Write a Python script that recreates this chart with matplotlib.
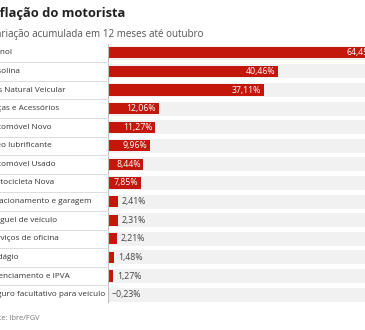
import matplotlib
matplotlib.use("Agg")
import matplotlib.pyplot as plt

categories = ["Etanol", "Gasolina", "Gás Natural Veicular", "Peças e Acessórios",
              "Automóvel Novo", "Óleo lubrificante", "Automóvel Usado",
              "Motocicleta Nova", "Estacionamento e garagem", "Aluguel de veículo",
              "Serviços de oficina", "Pedágio", "Licenciamento e IPVA",
              "Seguro facultativo para veículo"]
values = [64.45, 40.46, 37.11, 12.06, 11.27, 9.96, 8.44, 7.85, 2.41, 2.31,
          2.21, 1.48, 1.27, -0.23]
value_labels = ["64,45%", "40,46%", "37,11%", "12,06%", "11,27%", "9,96%", "8,44%",
                "7,85%", "2,41%", "2,31%", "2,21%", "1,48%", "1,27%", "−0,23%"]
title = "A inflação do motorista"
subtitle = "Variação acumulada em 12 meses até outubro"
source = "Fonte: Ibre/FGV"

plt.rcParams['font.family'] = ['Open Sans', 'DejaVu Sans']

W, H = 365, 330
fig = plt.figure(figsize=(W / 100, H / 100), dpi=100)
fig.patch.set_facecolor("white")

px_per_unit = 4.2
ax_left_px, ax_right_px = 108, 400
top_px, bot_px = 43.5, 303.9
ax = fig.add_axes([ax_left_px / W, (H - bot_px) / H,
                   (ax_right_px - ax_left_px) / W, (bot_px - top_px) / H])
xmax = (ax_right_px - ax_left_px) / px_per_unit
ax.set_xlim(0, xmax)
ax.set_ylim(len(categories) - 0.5, -0.5)
ax.axis("off")

red = "#c4170c"
n = len(categories)
ys = list(range(n))
ax.barh(ys, [xmax] * n, height=0.76, color="#f1f1f1", left=0, zorder=1)
ax.barh(ys, values, height=0.6, color=red, zorder=2)
ax.plot([0, 0], [-0.5, n - 0.62], color="#bfbfbf", lw=0.8, zorder=3)

fs_val = 6.3
for y, v, lab in zip(ys, values, value_labels):
    if v > 5:
        ax.text(v - 0.6, y, lab, ha="right", va="center", color="white",
                fontsize=fs_val, zorder=4)
    else:
        ax.text(max(v, 0) + 0.85, y, lab, ha="left", va="center", color="#444444",
                fontsize=fs_val, zorder=4)

label_x_px = -12
lx = (label_x_px - ax_left_px) / (ax_right_px - ax_left_px)
for y, c in zip(ys, categories):
    ax.text(lx, y, c, ha="left", va="center", color="#333333", fontsize=5.85,
            transform=ax.get_yaxis_transform(), zorder=4)

for y in ys[:-1]:
    ax.plot([(-ax_left_px - 5) / (ax_right_px - ax_left_px), 0], [y + 0.5, y + 0.5],
            transform=ax.get_yaxis_transform(), color="#dcdcdc", lw=0.7,
            clip_on=False, zorder=3)

fig.text(-25 / W, 1 - 13 / H, title, ha="left", va="center", fontsize=9.3,
         fontweight="bold", color="#222222")
fig.text(-9.5 / W, 1 - 34 / H, subtitle, ha="left", va="center", fontsize=7.1,
         color="#555555")
fig.text(-14 / W, 1 - 318 / H, source, ha="left", va="center", fontsize=5.3,
         color="#777777")

fig.savefig("out.png", dpi=100, facecolor="white")
